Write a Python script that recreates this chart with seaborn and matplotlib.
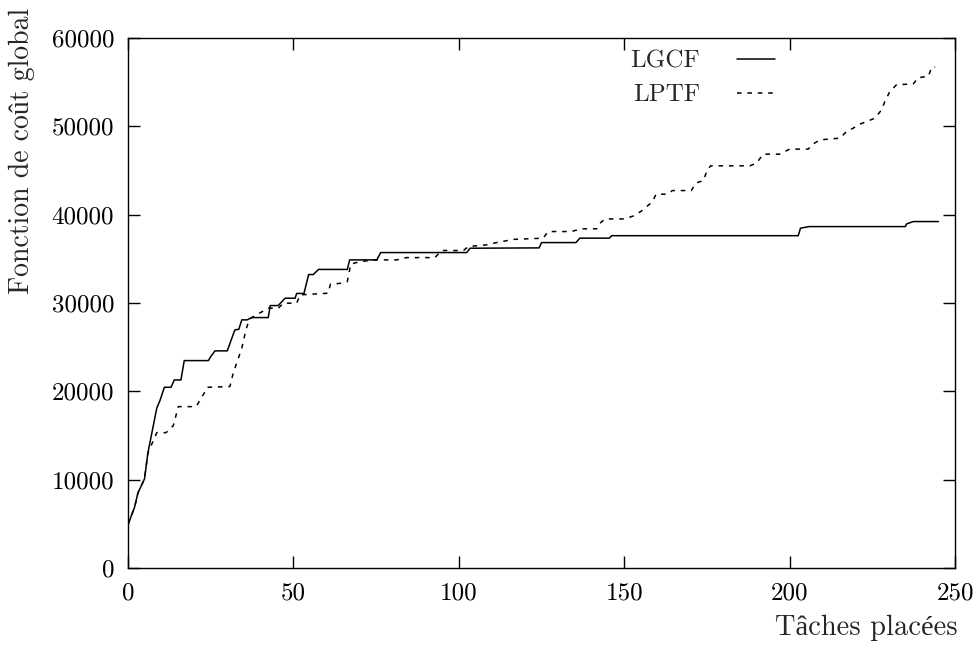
import matplotlib
matplotlib.use("Agg")
import matplotlib.pyplot as plt
import numpy as np
import pandas as pd
import seaborn as sns

# values
lgcf_x = [0, 2, 3, 5, 6, 8.7, 9.7, 11, 13, 14, 16, 17, 24.3, 25, 26.3, 30, 32.3, 33.5, 34.4, 36,
          37.4, 42.4, 43, 45.4, 47.5, 50.5, 51, 53.2, 54.6, 56, 57.6, 66.3, 67, 75.2, 76.4, 102.4,
          103.4, 124.3, 125, 135.4, 136.6, 145.5, 146.2, 202.6, 203.3, 205.9, 235, 235.4, 237.4, 245]
lgcf_y = [4900, 6900, 8500, 10100, 13000, 18100, 19000, 20460, 20460, 21290, 21290, 23480, 23480,
          23930, 24580, 24580, 26950, 27030, 28090, 28090, 28350, 28350, 29710, 29710, 30540, 30540,
          31080, 31080, 33220, 33220, 33800, 33800, 34880, 34880, 35710, 35710, 36200, 36240, 36840,
          36840, 37340, 37340, 37620, 37620, 38470, 38650, 38650, 38960, 39220, 39220]

lptf_x = [0, 2, 3, 5, 6, 8.7, 11.5, 13.7, 15.2, 20.6, 23.3, 24, 30.8, 31.8, 34.4, 35.7, 36.7, 37.4,
          42.4, 45.4, 47, 51, 52, 60.5, 61.2, 64.5, 66.3, 66.9, 67.3, 70.1, 75.2, 81.2, 84.2, 92.8,
          94.8, 101.4, 102.9, 108.4, 111.4, 116.5, 125.5, 127, 134, 137, 141.7, 142.7, 144.2, 150.2,
          152.8, 155.3, 156.8, 158.6, 159.6, 163, 164.6, 170.3, 171.6, 174, 174.9, 176.1, 188, 190,
          192, 197, 200, 205.6, 207.2, 209.2, 215.2, 217.2, 219.2, 221.2, 225.8, 227.8, 228.8, 230.3,
          232.3, 237.4, 238.9, 241.9, 243, 244]
lptf_y = [4900, 6900, 8500, 10100, 13000, 15320, 15320, 16120, 18270, 18270, 19970, 20460, 20540,
          22050, 24880, 27030, 28160, 28350, 29410, 29410, 29980, 29980, 30920, 31110, 32130, 32240,
          32420, 33550, 34390, 34690, 34880, 34880, 35140, 35140, 35940, 35940, 36390, 36580, 36840,
          37200, 37340, 38090, 38090, 38400, 38400, 39040, 39520, 39520, 39860, 40430, 40920, 41480,
          42320, 42320, 42730, 42730, 43570, 43870, 44880, 45530, 45530, 45830, 46850, 46850, 47420,
          47420, 48020, 48470, 48660, 49410, 49790, 50240, 50920, 51870, 52810, 53940, 54700, 54810,
          55520, 55640, 56710, 56710]

x_ticks = [0, 50, 100, 150, 200, 250]
y_ticks = [0, 10000, 20000, 30000, 40000, 50000, 60000]

sns.set_style("ticks")
# cmr10 has no accented letters, fall back to a light serif for those
plt.rcParams['font.family'] = ['cmr10', 'Liberation Serif']
plt.rcParams['axes.formatter.use_mathtext'] = True
plt.rcParams['mathtext.fontset'] = 'cm'

fig = plt.figure(figsize=(9.78, 6.46), dpi=100)
ax = fig.add_axes([128/978, 1-568/646, (955-128)/978, (568-38)/646])

sns.lineplot(x=lgcf_x, y=lgcf_y, ax=ax, color='black', lw=1.1, sort=False, estimator=None,
             label='LGCF')
sns.lineplot(x=lptf_x, y=lptf_y, ax=ax, color='black', lw=1.1, sort=False, estimator=None,
             label='LPTF', linestyle=(0, (3, 3.8)))

ax.set_xlim(0, 250)
ax.set_ylim(0, 60000)
ax.set_xticks(x_ticks)
ax.set_yticks(y_ticks)
ax.set_xticklabels([str(t) for t in x_ticks])
ax.set_yticklabels([str(t) for t in y_ticks])
ax.tick_params(direction='in', length=8.6, width=1, top=True, right=True, labelsize=18, pad=10,
               colors='black')
for s in ax.spines.values():
    s.set_visible(True)
    s.set_linewidth(1)
    s.set_color('black')

ax.legend(loc='upper right', bbox_to_anchor=((775-128)/827, (568-50)/530), markerfirst=False,
          frameon=False, fontsize=18, handlelength=1.5, handletextpad=1.5, labelspacing=0.45,
          borderpad=0, borderaxespad=0)

fig.text(958/978, 1-628/646, 'Tâches placées', ha='right', va='center', fontsize=20.5)
# keep the whole y label inside the figure
fig.text(22/978, 1-294/646, 'Fonction de coût global', ha='center', va='bottom', rotation=90,
         fontsize=20)

fig.savefig('out.png', dpi=100)
